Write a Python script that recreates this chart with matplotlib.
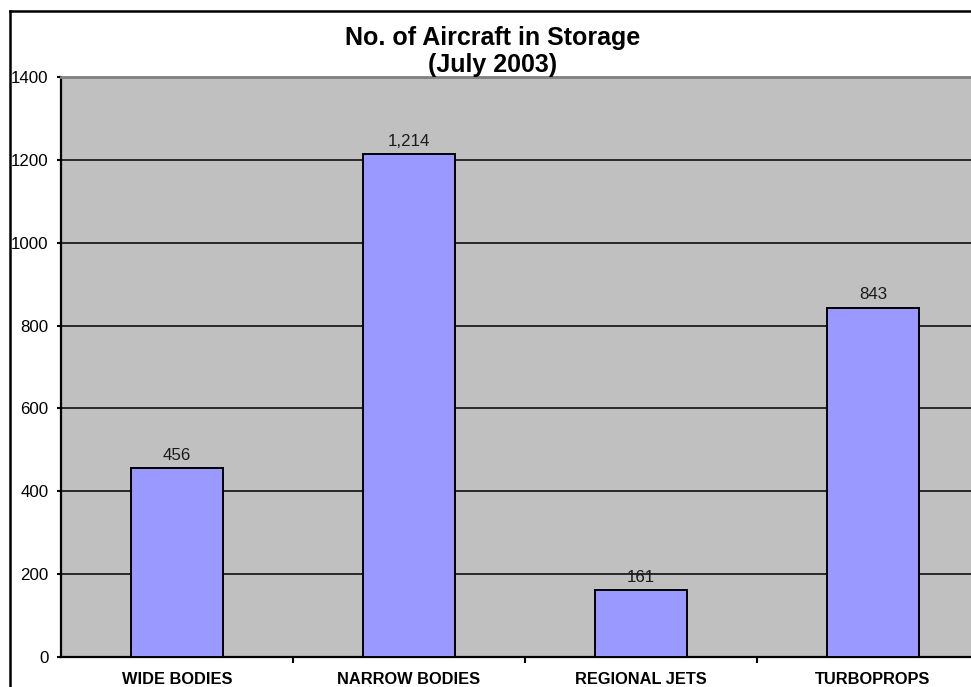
import matplotlib
matplotlib.use("Agg")
import matplotlib.pyplot as plt
from matplotlib.lines import Line2D

plt.rcParams['font.family'] = ['Liberation Sans', 'DejaVu Sans']

categories = ["WIDE BODIES", "NARROW BODIES", "REGIONAL JETS", "TURBOPROPS"]
counts = [456, 1214, 161, 843]
y_ticks = [0, 200, 400, 600, 800, 1000, 1200, 1400]

W, H = 971, 687
fig = plt.figure(figsize=(W / 100, H / 100), dpi=100)
fig.patch.set_facecolor("white")

ax = fig.add_axes([61 / W, 30 / H, 928 / W, 580 / H])
ax.set_facecolor("#C0C0C0")

x = list(range(len(categories)))
bars = ax.bar(x, counts, width=0.4, color="#9999FF", edgecolor="black",
              linewidth=1.4, zorder=3)

ax.set_xlim(-0.5, len(categories) - 0.5)
ax.set_ylim(0, 1400)
ax.set_yticks(y_ticks)
ax.set_yticklabels([str(v) for v in y_ticks], fontsize=12.2)
ax.yaxis.grid(True, color="black", linewidth=1.1, zorder=1)
ax.set_axisbelow(True)

# category labels centred, tick marks on the boundaries between categories
ax.set_xticks(x)
ax.set_xticklabels(categories, fontsize=11.8, fontweight="bold")
ax.tick_params(axis="x", which="major", length=0, pad=11)
ax.set_xticks([i + 0.5 for i in x[:-1]], minor=True)
ax.tick_params(axis="x", which="minor", length=4, width=1.5, direction="out")
ax.tick_params(axis="y", length=3, width=1.5, direction="out", pad=6)

for side in ("left", "bottom"):
    ax.spines[side].set_color("black")
    ax.spines[side].set_linewidth(1.6)
ax.spines["top"].set_color("#808080")
ax.spines["top"].set_linewidth(2.0)
ax.spines["right"].set_visible(False)

for xi, v in zip(x, counts):
    ax.annotate(f"{v:,}", (xi, v), xytext=(0, 4), textcoords="offset points",
                ha="center", va="bottom", fontsize=12.2, color="#1a1a1a")

fig.text(493 / W, 1 - 38 / H, "No. of Aircraft in Storage", ha="center",
         va="center", fontsize=18, fontweight="bold")
fig.text(493 / W, 1 - 65 / H, "(July 2003)", ha="center", va="center",
         fontsize=18, fontweight="bold")

# chart frame
fig.add_artist(Line2D([9.5 / W, 9.5 / W], [-0.1, 1 - 11 / H],
                      transform=fig.transFigure, color="black", linewidth=1.8))
fig.add_artist(Line2D([9.5 / W, 1.1], [1 - 11 / H, 1 - 11 / H],
                      transform=fig.transFigure, color="black", linewidth=1.8))

fig.savefig("out.png", dpi=100)
